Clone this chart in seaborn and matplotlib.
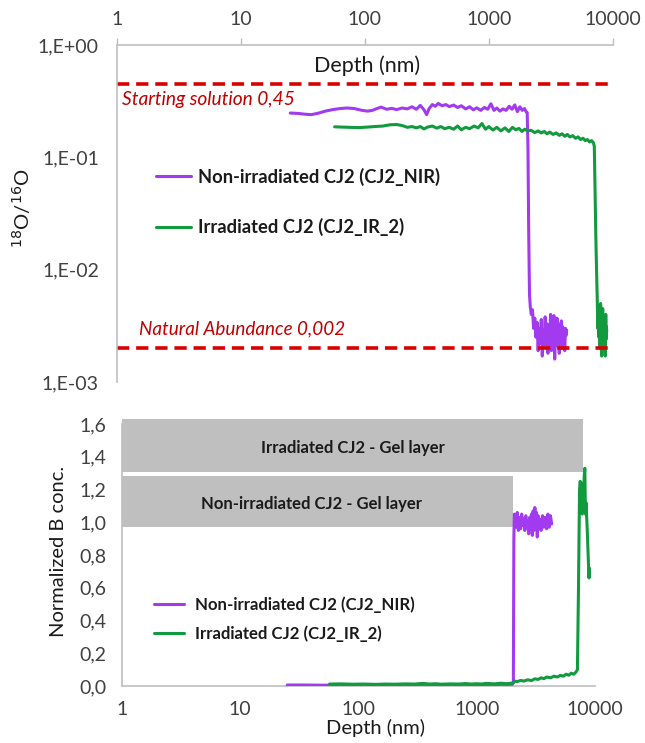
import numpy as np
import pandas as pd
import matplotlib.pyplot as plt
from matplotlib.patches import Rectangle
import seaborn as sns

sns.set_style('white')
plt.rcParams['font.family'] = ['Lato', 'DejaVu Sans']

# Colores
purple = '#A23BF0'
green = '#119A3E'
red = '#D90000'
darkred = '#C00000'
grey_axis = '#BFBFBF'
grey_text = '#404040'

# ---- Panel superior: razon 18O/16O vs profundidad ----
nir_o_depth = [25, 29, 33, 37, 42, 48, 55, 63, 72, 82, 95, 105, 115, 125, 135, 150, 165, 180,
               200, 220, 240, 260, 280, 300, 315, 330, 350, 370, 390, 420, 450, 480, 520, 560,
               600, 650, 700, 750, 800, 860, 920, 980, 1040, 1100, 1160, 1230, 1300, 1380, 1460,
               1540, 1620, 1700, 1780, 1860, 1940, 2000, 2040, 2070, 2100, 2130, 2160, 2200, 2250,
               2300, 2350, 2400, 2450, 2500, 2550, 2600, 2650, 2700, 2750, 2800, 2850, 2900, 2950,
               3000, 3050, 3100, 3150, 3200, 3250, 3300, 3350, 3400, 3450, 3500, 3550, 3600, 3650,
               3700, 3750, 3800, 3850, 3900, 3950, 4000, 4050, 4100, 4150, 4200, 4250]
nir_o_ratio = [0.248, 0.246, 0.242, 0.240, 0.247, 0.258, 0.266, 0.272, 0.275, 0.272, 0.262, 0.258,
               0.262, 0.272, 0.280, 0.268, 0.273, 0.266, 0.275, 0.270, 0.282, 0.268, 0.290, 0.265,
               0.240, 0.272, 0.295, 0.285, 0.302, 0.288, 0.295, 0.283, 0.292, 0.278, 0.288, 0.270,
               0.282, 0.265, 0.276, 0.262, 0.278, 0.268, 0.300, 0.262, 0.275, 0.258, 0.270, 0.262,
               0.285, 0.268, 0.293, 0.255, 0.282, 0.262, 0.272, 0.255, 0.250, 0.120, 0.020, 0.006,
               0.0047, 0.0040, 0.0044, 0.0030, 0.0037, 0.0025, 0.0034, 0.0019, 0.0030, 0.0022,
               0.0036, 0.0017, 0.0029, 0.0024, 0.0038, 0.0020, 0.0033, 0.0018, 0.0031, 0.0023,
               0.0040, 0.0019, 0.0034, 0.0026, 0.0039, 0.0016, 0.0030, 0.0021, 0.0037, 0.0025,
               0.0033, 0.0018, 0.0029, 0.0023, 0.0035, 0.0020, 0.0031, 0.0024, 0.0028, 0.0019,
               0.0030, 0.0026, 0.0029]

ir_o_depth = [57, 65, 75, 90, 105, 120, 140, 160, 180, 200, 220, 240, 260, 280, 300, 320, 350,
              380, 410, 440, 480, 520, 560, 600, 650, 700, 760, 820, 880, 940, 1000, 1080, 1160,
              1250, 1350, 1450, 1550, 1650, 1750, 1850, 1950, 2050, 2200, 2350, 2500, 2650, 2800,
              2950, 3100, 3300, 3500, 3700, 3900, 4100, 4300, 4500, 4750, 5000, 5250, 5500, 5750,
              6000, 6250, 6500, 6750, 7000, 7100, 7200, 7300, 7400, 7500, 7580, 7660, 7740, 7820,
              7900, 7980, 8060, 8140, 8220, 8300, 8380, 8460, 8540, 8620, 8700, 8780, 8850, 8900,
              8940]
ir_o_ratio = [0.187, 0.186, 0.185, 0.184, 0.186, 0.188, 0.190, 0.195, 0.196, 0.192, 0.185, 0.188,
              0.183, 0.188, 0.179, 0.186, 0.190, 0.182, 0.188, 0.180, 0.185, 0.178, 0.190, 0.176,
              0.185, 0.180, 0.190, 0.183, 0.200, 0.178, 0.188, 0.175, 0.185, 0.172, 0.183, 0.170,
              0.185, 0.176, 0.181, 0.170, 0.178, 0.172, 0.174, 0.166, 0.172, 0.165, 0.170, 0.162,
              0.168, 0.160, 0.165, 0.157, 0.162, 0.154, 0.160, 0.152, 0.156, 0.148, 0.152, 0.144,
              0.148, 0.141, 0.144, 0.137, 0.141, 0.134, 0.125, 0.050, 0.020, 0.010, 0.0054,
              0.0030, 0.0048, 0.0025, 0.0042, 0.0020, 0.0050, 0.0022, 0.0017, 0.0035, 0.0045,
              0.0023, 0.0038, 0.0019, 0.0033, 0.0017, 0.0040, 0.0024, 0.0031, 0.0028]

start_ratio = 0.45
natural_ratio = 0.002

# ---- Panel inferior: B normalizado vs profundidad ----
nir_b_depth = [25, 35, 50, 57, 100, 300, 700, 1200, 2000, 2040, 2060, 2080, 2100, 2150, 2200,
               2250, 2300, 2350, 2400, 2450, 2500, 2550, 2600, 2650, 2700, 2750, 2800, 2850, 2900,
               2950, 3000, 3050, 3100, 3150, 3200, 3250, 3300, 3350, 3400, 3500, 3600, 3700, 3800,
               3900, 4000, 4100, 4200, 4300]
nir_b_conc = [0.006, 0.006, 0.005, 0.005, 0.006, 0.007, 0.008, 0.009, 0.010, 0.020, 0.90, 1.05,
              1.04, 0.97, 1.06, 0.95, 1.03, 0.96, 1.05, 0.98, 1.02, 0.95, 1.04, 0.97, 1.01, 0.93,
              1.03, 0.96, 1.05, 0.92, 1.07, 0.95, 1.09, 0.97, 1.06, 0.91, 1.04, 0.96, 1.02, 0.95,
              1.04, 0.97, 1.03, 0.96, 1.05, 0.97, 1.04, 0.99]

ir_b_depth = [57, 70, 90, 110, 140, 170, 200, 250, 300, 350, 400, 450, 500, 600, 700, 800, 900,
              1000, 1100, 1200, 1400, 1600, 1800, 2000, 2100, 2200, 2350, 2500, 2700, 2900, 3100,
              3300, 3500, 3700, 3900, 4200, 4500, 4800, 5100, 5400, 5700, 6000, 6300, 6600, 6900,
              7100, 7250, 7400, 7500, 7600, 7700, 7800, 7900, 8000, 8100, 8200, 8300, 8400, 8600,
              8800, 8900, 8950]
ir_b_conc = [0.012, 0.013, 0.011, 0.012, 0.010, 0.012, 0.011, 0.013, 0.012, 0.016, 0.012, 0.014,
             0.011, 0.013, 0.012, 0.015, 0.012, 0.014, 0.012, 0.016, 0.013, 0.017, 0.014, 0.018,
             0.030, 0.027, 0.034, 0.030, 0.038, 0.033, 0.044, 0.040, 0.050, 0.045, 0.055, 0.050,
             0.060, 0.055, 0.065, 0.060, 0.072, 0.066, 0.078, 0.072, 0.085, 0.100, 0.60, 1.20,
             1.25, 1.18, 1.24, 1.05, 1.22, 1.10, 1.28, 1.33, 1.05, 1.12, 0.95, 0.75, 0.66, 0.72]

# Capas de gel (profundidad maxima, limites en y)
gel_labels = ['Irradiated CJ2 - Gel layer', 'Non-irradiated CJ2 - Gel layer']
gel_end = [7900, 2030]
gel_ymin = [1.31, 0.97]
gel_ymax = [1.63, 1.28]
gel_text_x = [90, 40]
gel_text_y = [1.455, 1.11]

series_labels = ['Non-irradiated CJ2 (CJ2_NIR)', 'Irradiated CJ2 (CJ2_IR_2)']
depth_ticks = [1, 10, 100, 1000, 10000]
ratio_ticks = [1e-3, 1e-2, 1e-1, 1]
ratio_ticklabels = ['1,E-03', '1,E-02', '1,E-01', '1,E+00']
conc_ticks = [0.0, 0.2, 0.4, 0.6, 0.8, 1.0, 1.2, 1.4, 1.6]

fig = plt.figure(figsize=(6.45, 7.43), dpi=100)

# ===== Panel superior =====
ax1 = fig.add_axes([0.1814, 0.4859, 0.7686, 0.4535])
sns.lineplot(x=nir_o_depth, y=nir_o_ratio, ax=ax1, color=purple, lw=2.2,
             sort=False, estimator=None, label=series_labels[0])
sns.lineplot(x=ir_o_depth, y=ir_o_ratio, ax=ax1, color=green, lw=2.2,
             sort=False, estimator=None, label=series_labels[1])
ax1.axhline(start_ratio, color=red, lw=2.6, dashes=(3.4, 1.9))
ax1.axhline(natural_ratio, color=red, lw=2.6, dashes=(3.4, 1.9))
ax1.set_xscale('log')
ax1.set_yscale('log')
ax1.set_xlim(1, 10000)
ax1.set_ylim(1e-3, 1)
ax1.xaxis.tick_top()
ax1.set_xticks(depth_ticks)
ax1.set_xticklabels([str(t) for t in depth_ticks])
ax1.set_yticks(ratio_ticks)
ax1.set_yticklabels(ratio_ticklabels)
ax1.minorticks_off()
ax1.tick_params(axis='x', direction='out', length=5, width=1, color=grey_axis,
                labelsize=14, labelcolor=grey_text, pad=7)
ax1.tick_params(axis='y', direction='out', length=6, width=1, color=grey_axis,
                labelsize=14, labelcolor=grey_text, pad=7)
for s in ['right', 'bottom']:
    ax1.spines[s].set_visible(False)
for s in ['top', 'left']:
    ax1.spines[s].set_color(grey_axis)
    ax1.spines[s].set_linewidth(1.2)
ax1.set_xlabel('')
ax1.set_ylabel('')
ax1.text(105, 0.66, 'Depth (nm)', ha='center', va='center', fontsize=15.5, color='#1a1a1a')
ax1.text(1.1, 0.325, 'Starting solution 0,45', ha='left', va='center', fontsize=13.8,
         style='italic', color=darkred)
ax1.text(1.5, 0.0030, 'Natural Abundance 0,002', ha='left', va='center', fontsize=13.6,
         style='italic', color=darkred)
leg1 = ax1.legend(loc='upper left', bbox_to_anchor=(0.045, 0.685), frameon=False,
                  handlelength=1.9, handletextpad=0.4, labelspacing=1.75,
                  prop={'weight': 'bold', 'size': 13.2})
for t in leg1.get_texts():
    t.set_color('#1a1a1a')
fig.text(22 / 645, 1 - 208 / 743, r'$^{18}$O/$^{16}$O', rotation=90, ha='center', va='center',
         fontsize=14.5, color='#1a1a1a')

# ===== Panel inferior =====
ax2 = fig.add_axes([0.189, 0.0767, 0.7335, 0.3526])
for lab, xend, y0, y1, tx, ty in zip(gel_labels, gel_end, gel_ymin, gel_ymax, gel_text_x, gel_text_y):
    ax2.add_patch(Rectangle((1, y0), xend - 1, y1 - y0, facecolor='#BFBFBF', edgecolor='none',
                            clip_on=False, zorder=1))
    ax2.text(tx, ty, lab, ha='center', va='center', fontsize=12, fontweight='bold',
             color='#1a1a1a', zorder=2)
sns.lineplot(x=nir_b_depth, y=nir_b_conc, ax=ax2, color=purple, lw=2.2,
             sort=False, estimator=None, label=series_labels[0], zorder=3)
sns.lineplot(x=ir_b_depth, y=ir_b_conc, ax=ax2, color=green, lw=2.2,
             sort=False, estimator=None, label=series_labels[1], zorder=4)
ax2.set_xscale('log')
ax2.set_xlim(1, 10000)
ax2.set_ylim(0, 1.6)
ax2.set_xticks(depth_ticks)
ax2.set_xticklabels([str(t) for t in depth_ticks])
ax2.set_yticks(conc_ticks)
ax2.set_yticklabels([f'{t:.1f}'.replace('.', ',') for t in conc_ticks])
ax2.minorticks_off()
ax2.tick_params(axis='both', direction='out', length=5, width=1, color=grey_axis,
                labelsize=14, labelcolor=grey_text, pad=6)
for s in ['right', 'top']:
    ax2.spines[s].set_visible(False)
for s in ['bottom', 'left']:
    ax2.spines[s].set_color(grey_axis)
    ax2.spines[s].set_linewidth(1.2)
ax2.set_xlabel('Depth (nm)', fontsize=14.5, color='#1a1a1a')
ax2.set_ylabel('Normalized B conc.', fontsize=14.5, color='#1a1a1a')
ax2.xaxis.set_label_coords(0.535, -0.125)
ax2.yaxis.set_label_coords(-0.115, 0.515)
leg2 = ax2.legend(loc='upper left', bbox_to_anchor=(0.035, 0.40), frameon=False,
                  handlelength=1.8, handletextpad=0.65, labelspacing=0.75,
                  prop={'weight': 'bold', 'size': 12.1})
for t in leg2.get_texts():
    t.set_color('#1a1a1a')

fig.savefig('out.png', dpi=100)
